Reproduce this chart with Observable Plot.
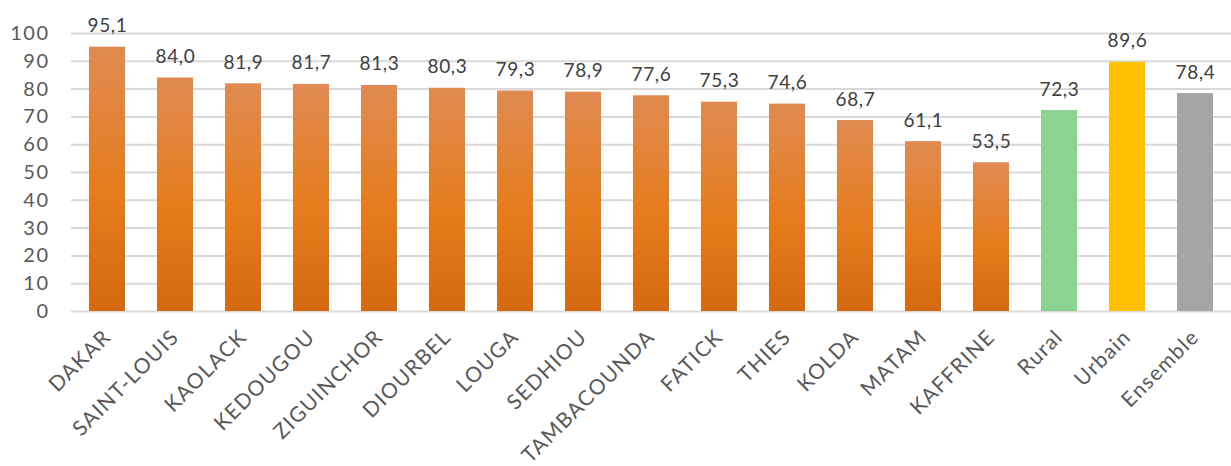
<!DOCTYPE html>
<html>
<head>
<meta charset="utf-8">
<script src="https://cdn.jsdelivr.net/npm/d3@7"></script>
<script src="https://cdn.jsdelivr.net/npm/@observablehq/plot@0.6"></script>
<style>
  html, body { margin: 0; padding: 0; background: #fff; }
  #chart svg { display: block; }
  #chart [aria-label="x-axis tick label"] text { letter-spacing: 1.3px; }
  #chart [aria-label="y-axis tick label"] text { letter-spacing: 1.5px; }
  #chart [aria-label="text"] text { letter-spacing: 0.6px; }
</style>
</head>
<body>
<div id="chart"></div>
<script>
const categories = ["DAKAR","SAINT-LOUIS","KAOLACK","KEDOUGOU","ZIGUINCHOR","DIOURBEL","LOUGA","SEDHIOU","TAMBACOUNDA","FATICK","THIES","KOLDA","MATAM","KAFFRINE","Rural","Urbain","Ensemble"];
const values = [95.1,84.0,81.9,81.7,81.3,80.3,79.3,78.9,77.6,75.3,74.6,68.7,61.1,53.5,72.3,89.6,78.4];
const groups = ["region","region","region","region","region","region","region","region","region","region","region","region","region","region","rural","urbain","ensemble"];
const yTicks = [0,10,20,30,40,50,60,70,80,90,100];

const fills = {region: "url(#orangeGrad)", rural: "#8BD390", urbain: "#FFC000", ensemble: "#A5A5A5"};
const data = categories.map((c, i) => ({cat: c, value: values[i], group: groups[i]}));
const fmt = v => v.toFixed(1).replace(".", ",");

const font = "Lato, 'Open Sans', sans-serif";

const chart = Plot.plot({
  width: 1231,
  height: 466,
  marginLeft: 71,
  marginRight: 0,
  marginTop: 33,
  marginBottom: 155,
  style: {fontFamily: font, fontSize: "19px", color: "#595959", background: "#fff"},
  x: {domain: categories, paddingInner: 0.47, paddingOuter: 0.235, label: null},
  y: {domain: [0, 100], label: null},
  marks: [
    Plot.gridY(yTicks, {stroke: "#d9d9d9", strokeOpacity: 1, strokeWidth: 2}),
    Plot.axisY({ticks: yTicks, tickSize: 0, tickPadding: 22, fontSize: 20, label: null}),
    Plot.axisX({tickSize: 0, tickRotate: -45, tickPadding: 22, fontSize: 21, label: null}),
    Plot.barY(data, {x: "cat", y: "value", fill: d => fills[d.group]}),
    Plot.text(data, {x: "cat", y: "value", text: d => fmt(d.value), lineAnchor: "bottom", dy: -15, fontSize: 19, fill: "#404040"})
  ]
});

const defs = document.createElementNS("http://www.w3.org/2000/svg", "defs");
defs.innerHTML = `<linearGradient id="orangeGrad" x1="0" y1="0" x2="0" y2="1">
  <stop offset="0" stop-color="#E08A52"/>
  <stop offset="0.55" stop-color="#E57C1D"/>
  <stop offset="1" stop-color="#D4690F"/>
</linearGradient>`;
chart.insertBefore(defs, chart.firstChild);
document.getElementById("chart").appendChild(chart);
</script>
</body>
</html>
